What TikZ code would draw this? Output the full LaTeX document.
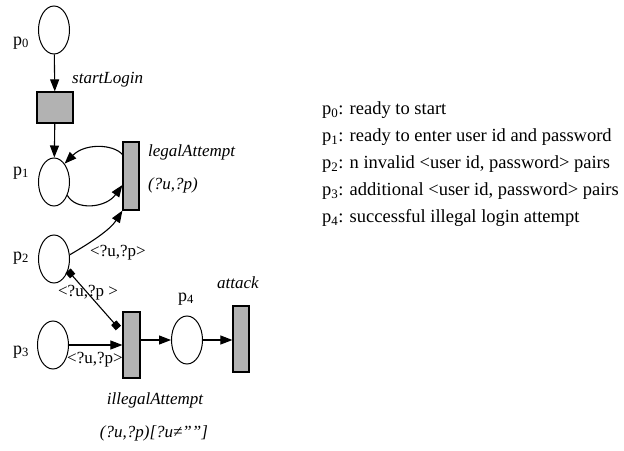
\documentclass[tikz,border=0pt]{standalone}
\usepackage{fontspec}
\setmainfont{Liberation Serif}
\usetikzlibrary{arrows.meta,shapes.geometric}
\begin{document}
\begin{tikzpicture}[x=1pt,y=-1pt,
  place/.style={draw, ellipse, minimum width=31pt, minimum height=48pt, inner sep=0pt, line width=1pt},
  trans/.style={draw, fill=black!30, line width=1.2pt, inner sep=0pt},
  arc/.style={arrows={-Triangle[length=12pt,width=9pt]}, line width=1.1pt},
  sqarc/.style={arrows={Square[length=7pt,width=7pt]-Square[length=7pt,width=7pt]}, line width=1.1pt},
  lbl/.style={font=\fontsize{17}{20}\selectfont\itshape, inner sep=0pt},
  ulbl/.style={font=\fontsize{17}{20}\selectfont, inner sep=0pt},
  plbl/.style={font=\fontsize{18}{20}\selectfont, inner sep=0pt},
  legend/.style={font=\fontsize{18.5}{22}\selectfont, inner sep=0pt, anchor=west}
]
\useasboundingbox (0,0) rectangle (624,450);

% places and transitions
\node[place] (p0) at (54,30) {};
\node[trans, minimum width=36pt, minimum height=31pt] (t0) at (55,107.5) {};
\node[place] (p1) at (54,182) {};
\node[trans, minimum width=16pt, minimum height=68pt] (t1) at (131,176) {};
\node[place] (p2) at (54,259) {};
\node[place] (p3) at (53,345) {};
\node[trans, minimum width=17pt, minimum height=66pt] (t2) at (131.5,345) {};
\node[place] (p4) at (187,340) {};
\node[trans, minimum width=16pt, minimum height=66pt] (t3) at (241,339) {};

% place labels
\node[plbl] (l0) at (21,43) {p\textsubscript{0}};
\node[plbl] (l1) at (21,173) {p\textsubscript{1}};
\node[plbl] (l2) at (21,258) {p\textsubscript{2}};
\node[plbl] (l3) at (21,352) {p\textsubscript{3}};
\node[plbl] (l4) at (186,299) {p\textsubscript{4}};

% transition labels
\node[lbl, anchor=west] (tl0) at (72,80) {startLogin};
\node[lbl, anchor=west] (tl1) at (148,152) {legalAttempt};
\node[lbl, anchor=west] (tl1b) at (148,185) {(?u,?p)};
\node[lbl] (tl2) at (155,400) {illegalAttempt};
\node[lbl] (tl2b) at (154,433) {(?u,?p)[?u≠\symbol{"22}\symbol{"22}]};
\node[lbl] (tl3) at (238,283) {attack};

% arc labels
\node[ulbl] (a1) at (118,253) {<?u,?p>};
\node[ulbl] (a2) at (88,293) {<?u,?p >};
\node[ulbl] (a3) at (95,360) {<?u,?p>};

% arcs
\draw[arc] (p0) -- (t0);
\draw[arc] (t0) -- (p1);
\draw[arc] ([yshift=-13pt]t1.north west) .. controls (113,144) and (85,143) .. (p1.60);
\draw[arc] (p1.-45) .. controls (76,211) and (106,208) .. ([yshift=-9pt]t1.west);
\draw[arc] (p2.15) .. controls (90,243) and (110,230) .. (t1.south west);
\draw[sqarc] (p2.-40) -- ([shift={(-4pt,17pt)}]t2.west);
\draw[arc] (p3.east) -- (t2.west |- p3.east);
\draw[arc] (t2.east |- p4.west) -- (p4.west);
\draw[arc] (p4.east) -- (t3.west |- p4.east);

% legend
\node[legend] (g0) at (322,110) {p\textsubscript{0}: ready to start};
\node[legend] (g1) at (322,137) {p\textsubscript{1}: ready to enter user id and password};
\node[legend] (g2) at (322,164) {p\textsubscript{2}: n invalid <user id, password> pairs};
\node[legend] (g3) at (322,191) {p\textsubscript{3}: additional <user id, password> pairs};
\node[legend] (g4) at (322,218) {p\textsubscript{4}: successful illegal login attempt};
\end{tikzpicture}
\end{document}
